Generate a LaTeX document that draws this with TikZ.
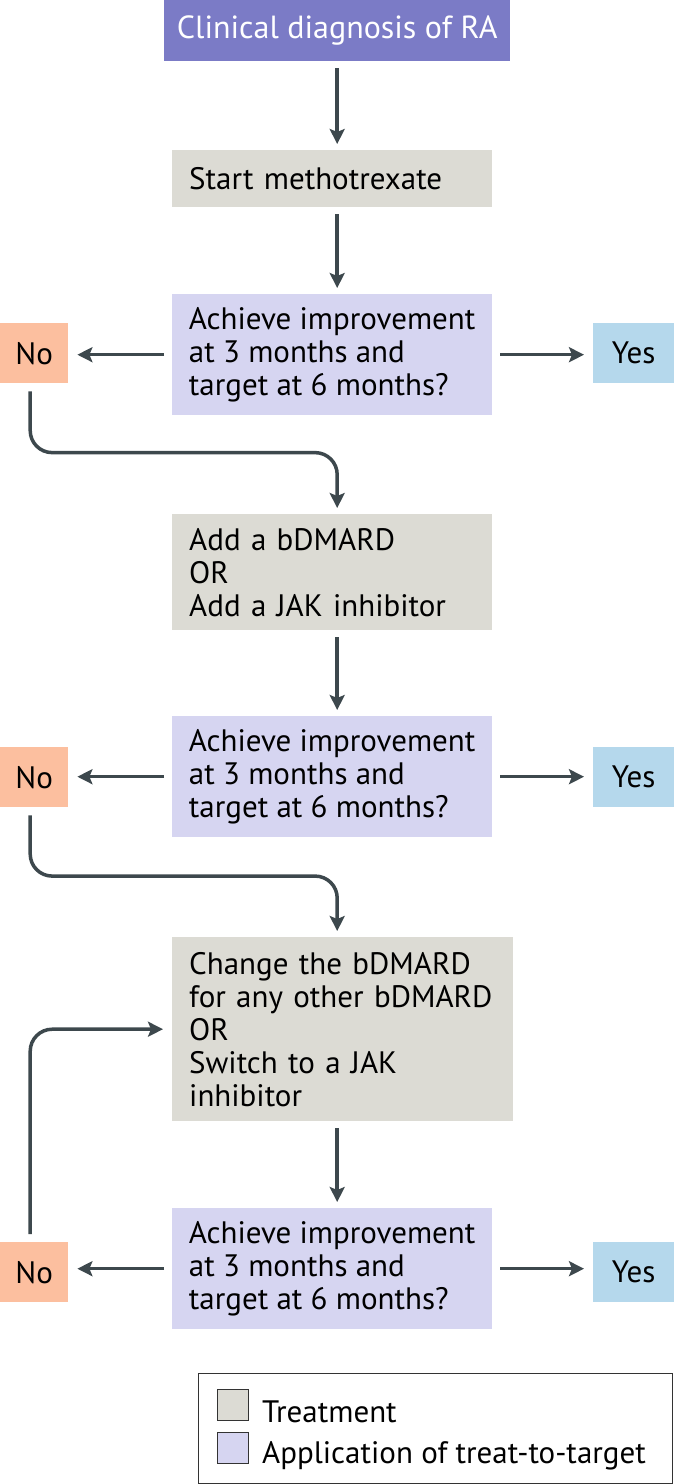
\documentclass[tikz,border=0pt]{standalone}
\usepackage{fontspec}
\setmainfont{PT Sans}
\usetikzlibrary{arrows.meta,calc}
\definecolor{diagc}{HTML}{7B7BC6}
\definecolor{trtc}{HTML}{DCDBD4}
\definecolor{qc}{HTML}{D6D5F1}
\definecolor{noc}{HTML}{FCBF9F}
\definecolor{yesc}{HTML}{B5D8EC}
\definecolor{arrc}{HTML}{3D484D}
\definecolor{legc}{HTML}{333333}
\begin{document}
\begin{tikzpicture}[x=1pt,y=-1pt,
  every node/.style={font=\fontsize{31}{33}\selectfont, inner sep=0pt, anchor=north west},
  trt/.style={fill=trtc, inner xsep=17pt, align=left},
  qbox/.style={fill=qc, inner xsep=15pt, align=left, minimum width=320pt, minimum height=121pt},
  nobox/.style={fill=noc, minimum width=68pt, minimum height=60pt},
  yesbox/.style={fill=yesc, minimum width=81pt, minimum height=60pt},
  keybox/.style={draw=legc, line width=1pt, minimum size=31pt},
  arr/.style={draw=arrc, line width=3.5pt, -{Stealth[length=15pt,width=15pt,inset=3pt]}},
  vert/.style={arr, shorten <=7pt, shorten >=6pt},
  side/.style={arr, shorten <=8pt, shorten >=9pt}]
\useasboundingbox (0,0) rectangle (674,1484);
\node[fill=diagc, text=white, minimum width=346pt, minimum height=61pt, font=\fontsize{32}{33}\selectfont] (diag) at (164,0) {Clinical diagnosis of RA};
\node[trt, text width=286pt, minimum height=57pt] (trt0) at (172,150) {Start methotrexate};
\node[qbox] (q0) at (172,294) {Achieve improvement\\at 3 months and\\target at 6 months?};
\node[nobox] (no0) at (0,323) {No};
\node[yesbox] (yes0) at (593,323) {Yes};
\node[trt, text width=286pt, minimum height=116pt] (trt1) at (172,514) {Add a bDMARD\\OR\\Add a JAK inhibitor};
\node[qbox] (q1) at (172,716) {Achieve improvement\\at 3 months and\\target at 6 months?};
\node[nobox] (no1) at (0,747) {No};
\node[yesbox] (yes1) at (593,747) {Yes};
\node[trt, text width=307pt, minimum height=184pt] (trt2) at (172,937) {Change the bDMARD\\for any other bDMARD\\OR\\Switch to a JAK\\inhibitor};
\node[qbox] (q2) at (172,1208) {Achieve improvement\\at 3 months and\\target at 6 months?};
\node[nobox] (no2) at (0,1242) {No};
\node[yesbox] (yes2) at (593,1242) {Yes};
\draw[vert] (diag.south) -- (diag.south |- trt0.north);
\draw[vert] (trt0.south -| diag.south) -- (q0.north -| diag.south);
\draw[side] (q0.west) -- (q0.west -| no0.east);
\draw[side] (q0.east) -- (q0.east -| yes0.west);
\draw[vert, shorten <=8pt, rounded corners=22pt] ([xshift=-4pt]no0.south) |- ($(no0.south)!0.53!(trt1.north)$) -| (trt1.north -| diag.south);
\draw[vert] (trt1.south -| diag.south) -- (q1.north -| diag.south);
\draw[side] (q1.west) -- (q1.west -| no1.east);
\draw[side] (q1.east) -- (q1.east -| yes1.west);
\draw[vert, shorten <=8pt, rounded corners=22pt] ([xshift=-4pt]no1.south) |- ($(no1.south)!0.53!(trt2.north)$) -| (trt2.north -| diag.south);
\draw[vert] (trt2.south -| diag.south) -- (q2.north -| diag.south);
\draw[side] (q2.west) -- (q2.west -| no2.east);
\draw[side] (q2.east) -- (q2.east -| yes2.west);
\draw[side, rounded corners=22pt] ([xshift=-4pt]no2.north) |- (trt2.west);
\node[draw=legc, line width=1pt, minimum width=474pt, minimum height=110pt] (leg) at (198,1373) {};
\node[keybox, fill=trtc] (key0) at (217,1389) {};
\node[keybox, fill=qc] (key1) at (217,1432) {};
\node[anchor=base west] (lab0) at (262,1422) {Treatment};
\node[anchor=base west] (lab1) at (262,1463) {Application of treat-to-target};
\end{tikzpicture}
\end{document}
